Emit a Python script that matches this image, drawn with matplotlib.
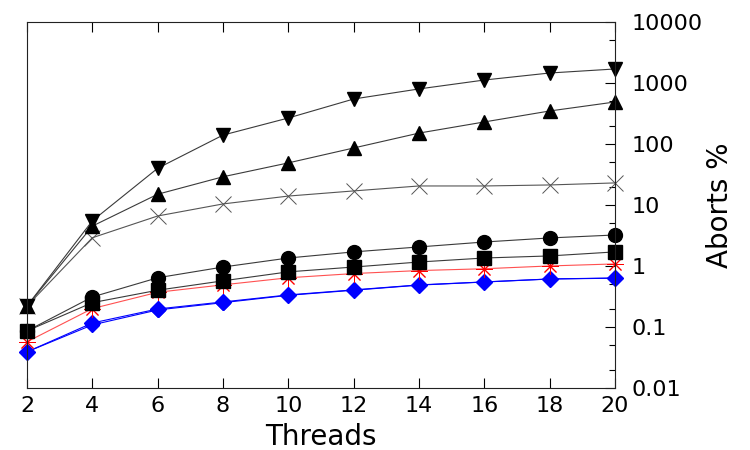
import matplotlib.pyplot as plt
from matplotlib.ticker import LogLocator, FixedLocator, NullFormatter

# -- data
threads = [2, 4, 6, 8, 10, 12, 14, 16, 18, 20]
down_tri = [0.22, 5.5, 40, 140, 267, 547, 800, 1120, 1460, 1700]
up_tri = [0.22, 4.5, 15, 29, 49, 86, 151, 230, 348, 489]
cross = [0.22, 2.9, 6.6, 10.4, 14, 17, 20.5, 20.5, 21.3, 23]
circle = [0.086, 0.31, 0.64, 0.96, 1.35, 1.7, 2.05, 2.47, 2.88, 3.22]
square = [0.086, 0.25, 0.40, 0.57, 0.80, 0.96, 1.16, 1.35, 1.46, 1.70]
star = [0.057, 0.20, 0.37, 0.49, 0.64, 0.75, 0.84, 0.90, 1.0, 1.08]
diamond = [0.039, 0.116, 0.197, 0.257, 0.335, 0.405, 0.489, 0.547, 0.612, 0.635]
diamond_open = [0.039, 0.108, 0.19, 0.25, 0.33, 0.40, 0.485, 0.545, 0.61, 0.63]

ytick_vals = [0.01, 0.1, 1, 10, 100, 1000, 10000]
ytick_labels = ['0.01', '0.1', '1', '10', '100', '1000', '10000']

# -- figure
fig = plt.figure(figsize=(7.5, 4.5), dpi=100)
ax = fig.add_axes([0.036, 0.138, 0.784, 0.813])

lc = '#3a3a3a'
lw = 0.8
ax.plot(threads, diamond_open, color='blue', lw=lw, marker='D', ms=7,
        mfc='white', mec='blue', mew=1.0, clip_on=False)
ax.plot(threads, diamond, color='blue', lw=lw, marker='D', ms=8,
        mfc='blue', mec='blue', clip_on=False)
ax.plot(threads, star, color='#ff5050', lw=lw, marker=(8, 2, 0), ms=12,
        mec='red', mew=0.7, clip_on=False)
ax.plot(threads, circle, color=lc, lw=lw, marker='o', ms=10,
        mfc='black', mec='black', clip_on=False)
ax.plot(threads, square, color=lc, lw=lw, marker='s', ms=9.5,
        mfc='black', mec='black', clip_on=False)
ax.plot(threads, cross, color='#555555', lw=lw, marker='x', ms=11,
        mec='#555555', mew=0.7, clip_on=False)
ax.plot(threads, up_tri, color=lc, lw=lw, marker='^', ms=10.5,
        mfc='black', mec='black', clip_on=False)
ax.plot(threads, down_tri, color=lc, lw=lw, marker='v', ms=10.5,
        mfc='black', mec='black', clip_on=False)

ax.set_xlim(2, 20)
ax.set_yscale('log')
ax.set_ylim(0.01, 10000)
ax.set_xticks(threads)

ax.yaxis.set_major_locator(FixedLocator(ytick_vals))
ax.set_yticklabels(ytick_labels)
ax.yaxis.set_minor_locator(LogLocator(base=10, subs=(2, 5)))
ax.yaxis.set_minor_formatter(NullFormatter())

ax.yaxis.tick_right()
ax.yaxis.set_label_position('right')
ax.tick_params(axis='y', which='major', direction='in', length=7, width=0.8,
               labelsize=16, pad=12, left=False, right=True)
ax.tick_params(axis='y', which='minor', direction='in', length=4, width=0.8,
               left=False, right=True)
ax.tick_params(axis='x', which='major', direction='in', length=7, width=0.8,
               labelsize=16, pad=6, top=True, bottom=True)
for s in ax.spines.values():
    s.set_linewidth(0.8)
    s.set_color('#222222')

ax.set_xlabel('Threads', fontsize=20, labelpad=5)
ax.set_ylabel('Aborts %', fontsize=20, labelpad=2)

fig.savefig('out.png', dpi=100)
